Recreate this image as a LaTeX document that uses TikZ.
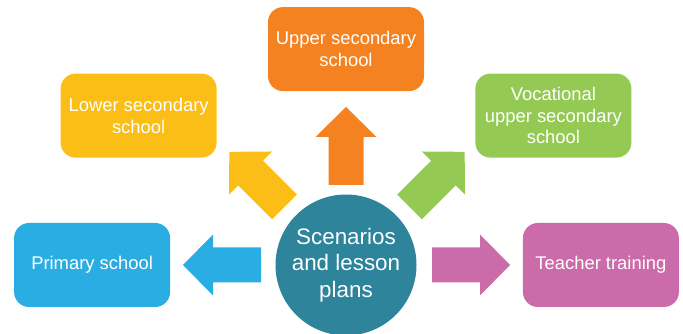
\documentclass[tikz,border=0pt]{standalone}
\usepackage{fontspec}
\setmainfont{Liberation Sans}
\usetikzlibrary{positioning}

\definecolor{hubteal}{HTML}{2D849B}
\definecolor{upperorange}{HTML}{F58220}
\definecolor{loweryellow}{HTML}{FBBE16}
\definecolor{vocgreen}{HTML}{94C954}
\definecolor{primaryblue}{HTML}{2AADE3}
\definecolor{teacherpink}{HTML}{CB6BA9}

\tikzset{
  box/.style={rectangle, rounded corners=15pt, minimum width=156pt,
    minimum height=84pt, inner sep=2pt, text=white, align=center,
    font=\fontsize{18.4}{21.7}\selectfont},
  hubnode/.style={circle, minimum size=141pt, inner sep=0pt, text=white,
    align=center, font=\fontsize{22.4}{26.7}\selectfont},
  blockarrow/.pic={
    \fill[pic actions] (0,-17.5) -- (48,-17.5) -- (48,-30.5) -- (78,0)
      -- (48,30.5) -- (48,17.5) -- (0,17.5) -- cycle;
  }
}

\begin{document}
\begin{tikzpicture}[x=1pt,y=1pt]
  \useasboundingbox (0,0) rectangle (683,334);

  \node[hubnode, fill=hubteal] (hub) at (346,69) {Scenarios\\and lesson\\plans};

  \node[box, fill=upperorange, above=103pt of hub] (upper) {Upper secondary\\school};
  \node[box, fill=primaryblue, left=105pt of hub] (primary) {Primary school};
  \node[box, fill=teacherpink, right=106pt of hub] (teacher) {Teacher training};
  \node[box, fill=loweryellow, left=51pt of upper, yshift=-66.5pt] (lower) {Lower secondary\\school};
  \node[box, fill=vocgreen, right=51pt of upper, yshift=-66.5pt] (vocational) {Vocational\\upper secondary\\school};

  % block arrows out of the hub
  \pic[fill=upperorange, rotate=90] at ([yshift=80pt]hub.center) {blockarrow};
  \pic[fill=primaryblue, rotate=180] at ([xshift=-85pt]hub.center) {blockarrow};
  \pic[fill=teacherpink] at ([xshift=86pt]hub.center) {blockarrow};
  \pic[fill=loweryellow, rotate=135] at ([shift={(-61.5,58)}]hub.center) {blockarrow};
  \pic[fill=vocgreen, rotate=45] at ([shift={(63.5,58)}]hub.center) {blockarrow};
\end{tikzpicture}
\end{document}
